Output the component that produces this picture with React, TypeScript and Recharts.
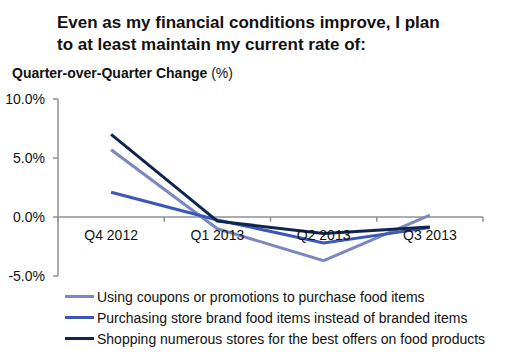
import { LineChart, Line, XAxis, YAxis, ReferenceLine } from 'recharts'

const categories = ['Q4 2012', 'Q1 2013', 'Q2 2013', 'Q3 2013']
const coupons = [5.7, -1.0, -3.7, 0.15]
const storeBrand = [2.1, -0.25, -2.2, -0.9]
const shopping = [7.0, -0.35, -1.4, -0.85]
const yTicks = [-5, 0, 5, 10]

const series = [
  { key: 'coupons', name: 'Using coupons or promotions to purchase food items', color: '#7b88c0' },
  { key: 'storeBrand', name: 'Purchasing store brand food items instead of branded items', color: '#3b57b8' },
  { key: 'shopping', name: 'Shopping numerous stores for the best offers on food products', color: '#0e2550' },
]

const data = categories.map((q, i) => ({
  q,
  coupons: coupons[i],
  storeBrand: storeBrand[i],
  shopping: shopping[i],
}))

const font = 'Arial, "Liberation Sans", sans-serif'
const W = 522
const H = 361
const TOP = 99
const BOTTOM = 276
const yMin = yTicks[0]
const yMax = yTicks[yTicks.length - 1]
const zeroY = TOP + ((yMax - 0) / (yMax - yMin)) * (BOTTOM - TOP)
const axisGrey = '#8c9099'

function QuarterTick(props: any) {
  const { x, payload } = props
  return (
    <text x={x} y={zeroY + 23} textAnchor="middle" fontSize={14} fill="#111" fontFamily={font}>
      {payload.value}
    </text>
  )
}

export default function App() {
  return (
    <div style={{ position: 'fixed', left: 0, top: 0, width: W, height: H, background: '#fff', fontFamily: font }}>
      <div style={{ position: 'absolute', left: 57, top: 12, fontSize: 17, fontWeight: 'bold', lineHeight: '22px', color: '#111' }}>
        Even as my financial conditions improve, I plan
        <br />
        to at least maintain my current rate of:
      </div>
      <div style={{ position: 'absolute', left: 12, top: 65, fontSize: 14, color: '#111' }}>
        <b>Quarter-over-Quarter Change</b> (%)
      </div>
      <LineChart
        width={W}
        height={H}
        data={data}
        margin={{ top: TOP, right: W - 483, bottom: H - BOTTOM - 30, left: 0 }}
      >
        <XAxis
          dataKey="q"
          scale="band"
          height={30}
          axisLine={false}
          tickLine={false}
          tick={<QuarterTick />}
          interval={0}
        />
        <YAxis
          width={58}
          domain={[yMin, yMax]}
          ticks={yTicks}
          tickFormatter={(v) => `${Number(v).toFixed(1)}%`}
          tick={{ fontSize: 14, fill: '#111', fontFamily: font }}
          axisLine={{ stroke: axisGrey, strokeWidth: 1.5 }}
          tickLine={{ stroke: axisGrey, strokeWidth: 1.5 }}
          tickSize={5}
          tickMargin={8}
        />
        <ReferenceLine y={0} stroke={axisGrey} strokeWidth={1.5} />
        {categories.map((c) => (
          <ReferenceLine
            key={c}
            position="start"
            segment={[{ x: c, y: 0 }, { x: c, y: -0.4 }]}
            stroke={axisGrey}
            strokeWidth={1.5}
          />
        ))}
        <ReferenceLine
          position="end"
          segment={[
            { x: categories[categories.length - 1], y: 0 },
            { x: categories[categories.length - 1], y: -0.4 },
          ]}
          stroke={axisGrey}
          strokeWidth={1.5}
        />
        {series.map((s) => (
          <Line
            key={s.key}
            dataKey={s.key}
            name={s.name}
            stroke={s.color}
            strokeWidth={3}
            dot={false}
            isAnimationActive={false}
          />
        ))}
      </LineChart>
      <div style={{ position: 'absolute', left: 65, top: 286, fontSize: 14, color: '#111' }}>
        {series.map((s) => (
          <div key={s.key} style={{ display: 'flex', alignItems: 'center', height: 21, whiteSpace: 'nowrap' }}>
            <span style={{ display: 'inline-block', width: 29, height: 3, background: s.color, marginRight: 3 }} />
            {s.name}
          </div>
        ))}
      </div>
    </div>
  )
}
